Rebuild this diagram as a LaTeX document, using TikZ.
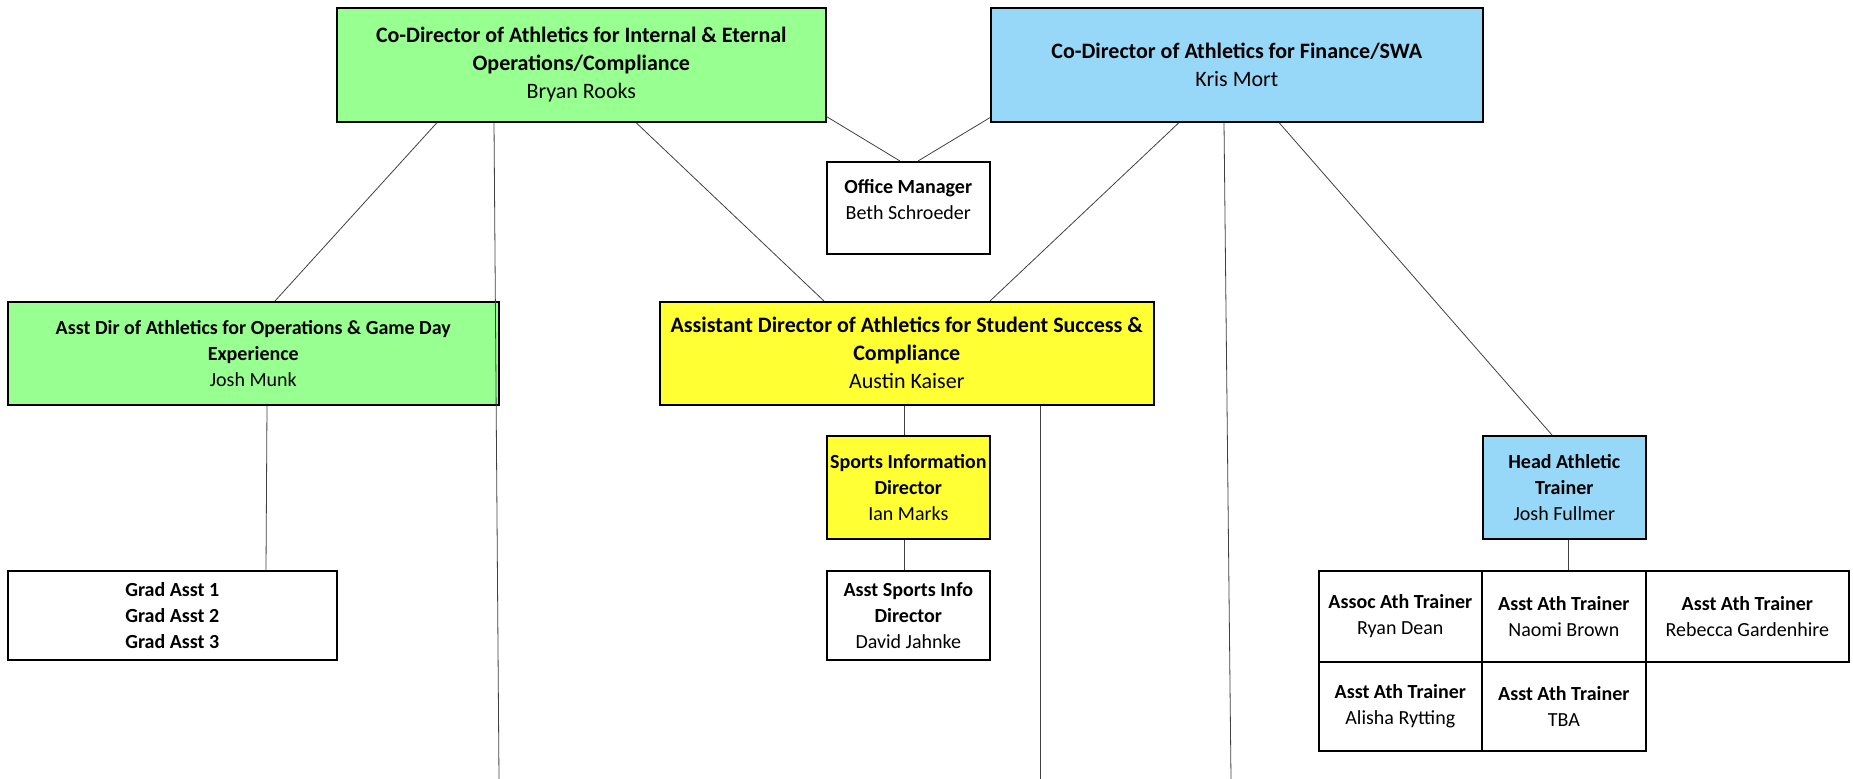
\documentclass[tikz,border=0pt]{standalone}
\usepackage{fontspec}
\setmainfont{Carlito}
\definecolor{boxgreen}{RGB}{152,255,145}
\definecolor{boxblue}{RGB}{151,216,249}
\definecolor{boxyellow}{RGB}{255,255,51}
\tikzset{
  orgbox/.style={draw=black, line width=1.6pt, rectangle, inner sep=2pt, align=center,
    anchor=north west, font=\fontsize{20}{26}\selectfont},
  bigtext/.style={font=\fontsize{22}{28}\selectfont},
  link/.style={draw=black!75, line width=0.8pt},
}
\begin{document}
\begin{tikzpicture}[x=1pt,y=-1pt]
\useasboundingbox (0,0) rectangle (1853,779);
% top level
\node[orgbox, bigtext, fill=boxgreen, minimum width=489pt, minimum height=114pt] (g1) at (336,7)
  {\textbf{Co-Director of Athletics for Internal \& Eternal}\\\textbf{Operations/Compliance}\\Bryan Rooks};
\node[orgbox, bigtext, fill=boxblue, minimum width=492pt, minimum height=114pt] (b1) at (990,7)
  {\textbf{Co-Director of Athletics for Finance/SWA}\\Kris Mort};
\node[orgbox, fill=white, minimum width=163pt, minimum height=92pt] (om) at (826,161)
  {\textbf{Office Manager}\\Beth Schroeder\\[-10pt]\mbox{}};
% second level
\node[orgbox, fill=boxgreen, minimum width=491pt, minimum height=103pt] (ops) at (7,301)
  {\textbf{Asst Dir of Athletics for Operations \& Game Day}\\\textbf{Experience}\\Josh Munk};
\node[orgbox, bigtext, fill=boxyellow, minimum width=494pt, minimum height=103pt] (ss) at (659,301)
  {\textbf{Assistant Director of Athletics for Student Success \&}\\\textbf{Compliance}\\Austin Kaiser};
\node[orgbox, fill=boxyellow, minimum width=163pt, minimum height=103pt] (sid) at (826,435)
  {\textbf{Sports Information}\\\textbf{Director}\\Ian Marks};
\node[orgbox, fill=boxblue, minimum width=163pt, minimum height=103pt] (hat) at (1482,435)
  {\textbf{Head Athletic}\\\textbf{Trainer}\\Josh Fullmer};
% third level
\node[orgbox, fill=white, minimum width=329pt, minimum height=89pt] (grad) at (7,570)
  {\textbf{Grad Asst 1}\\\textbf{Grad Asst 2}\\\textbf{Grad Asst 3}};
\node[orgbox, fill=white, minimum width=163pt, minimum height=89pt] (asid) at (826,570)
  {\textbf{Asst Sports Info}\\\textbf{Director}\\David Jahnke};
\node[orgbox, fill=white, minimum width=163pt, minimum height=91pt] (t1) at (1318,570)
  {\textbf{Assoc Ath Trainer}\\Ryan Dean};
\node[orgbox, fill=white, minimum width=164pt, minimum height=91pt] (t2) at (1481,570)
  {\textbf{Asst Ath Trainer}\\Naomi Brown};
\node[orgbox, fill=white, minimum width=203pt, minimum height=91pt] (t3) at (1645,570)
  {\textbf{Asst Ath Trainer}\\Rebecca Gardenhire};
\node[orgbox, fill=white, minimum width=163pt, minimum height=89pt] (t4) at (1318,661)
  {\textbf{Asst Ath Trainer}\\Alisha Rytting};
\node[orgbox, fill=white, minimum width=164pt, minimum height=89pt] (t5) at (1481,661)
  {\textbf{Asst Ath Trainer}\\TBA};
% free ends
\coordinate (e1) at (499,779);
\coordinate (e2) at (1040,779);
\coordinate (e3) at (1231,779);
% connectors
\draw[link] ([xshift=101pt]g1.south west) -- ([xshift=268pt]ops.north west);
\draw[link] ([xshift=158pt]g1.south west) -- (e1);
\draw[link] ([xshift=300pt]g1.south west) -- ([xshift=165pt]ss.north west);
\draw[link] ([yshift=6pt]g1.south east) -- ([xshift=74pt]om.north west);
\draw[link] ([yshift=5pt]b1.south west) -- ([xshift=92pt]om.north west);
\draw[link] ([xshift=189pt]b1.south west) -- ([xshift=331pt]ss.north west);
\draw[link] ([xshift=234pt]b1.south west) -- (e3);
\draw[link] ([xshift=289pt]b1.south west) -- ([xshift=70pt]hat.north west);
\draw[link] ([xshift=260pt]ops.south west) -- ([xshift=259pt]grad.north west);
\draw[link] ([xshift=245pt]ss.south west) -- ([xshift=78pt]sid.north west);
\draw[link] ([xshift=381pt]ss.south west) -- (e2);
\draw[link] ([xshift=78pt]sid.south west) -- ([xshift=78pt]asid.north west);
\draw[link] ([xshift=86pt]hat.south west) -- ([xshift=87pt]t2.north west);
\end{tikzpicture}
\end{document}
